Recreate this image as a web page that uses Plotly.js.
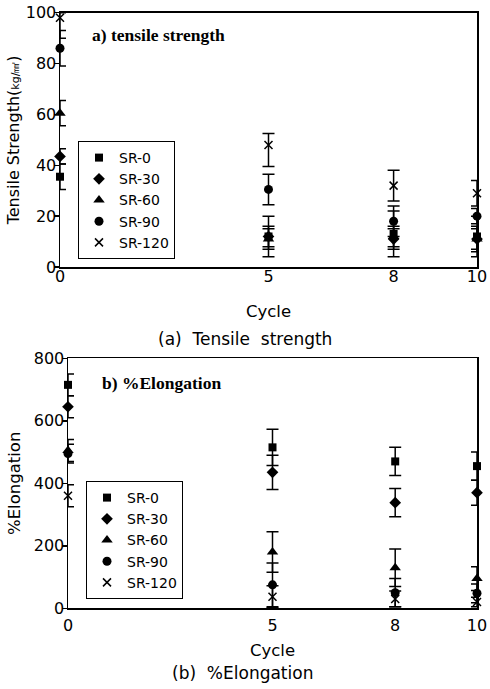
<!DOCTYPE html>
<html>
<head>
<meta charset="utf-8">
<script src="https://cdn.plot.ly/plotly-3.0.1.min.js"></script>
<style>html,body{margin:0;padding:0;background:#fff;}</style>
</head>
<body>
<div id="chart" style="width:490px;height:689px;"></div>
<script>
// ---- data ----
const cycles = [0, 5, 8, 10];
const seriesNames = ['SR-0', 'SR-30', 'SR-60', 'SR-90', 'SR-120'];

// (a) Tensile strength (kg/mm2)
const tsSR0 = [35.5, 12, 13, 12];
const tsSR30 = [43.5, 12, 11, 11];
const tsSR60 = [60.5, 11, 12, 11];
const tsSR90 = [86, 30.5, 18, 20];
const tsSR120 = [98, 48, 32, 29];
const tsErrSR0 = [5, 8, 9, 8];
const tsErrSR30 = [3, 4, 4, 4];
const tsErrSR60 = [5, 4, 4, 5];
const tsErrSR90 = [7, 6, 6, 3];
const tsErrSR120Plus = [2, 4.5, 6, 5];
const tsErrSR120Minus = [8, 8.5, 6, 5];

// (b) %Elongation
const elSR0 = [715, 515, 470, 455];
const elSR30 = [645, 435, 338, 370];
const elSR60 = [505, 180, 130, 95];
const elSR90 = [495, 75, 50, 48];
const elSR120 = [360, 37, 30, 20];
const elErrSR0 = [35, 58, 45, 45];
const elErrSR30 = [35, 55, 45, 40];
const elErrSR60 = [35, 65, 60, 38];
const elErrSR90 = [30, 70, 45, 30];
const elErrSR120 = [35, 35, 25, 15];

const yTicksTS = [0, 20, 40, 60, 80, 100];
const yTicksEL = [0, 200, 400, 600, 800];

// ---- styles ----
const symbols = ['square', 'diamond', 'triangle-up', 'circle', 'x-thin-open'];
const sizes = [8, 9, 10, 9, 8];

function mk(name, i, x, y, ep, em, xa, ya, leg) {
  return {
    type: 'scatter', mode: 'markers', name: name, x: x, y: y,
    xaxis: xa, yaxis: ya, legend: leg, cliponaxis: false,
    marker: { symbol: symbols[i], size: sizes[i], color: '#000',
              line: { color: '#000', width: symbols[i] === 'x-thin-open' ? 1.5 : 0 } },
    error_y: { type: 'data', array: ep, arrayminus: em, symmetric: false, visible: true,
               color: '#000', thickness: 1.5, width: 6 }
  };
}

const tsY = [tsSR0, tsSR30, tsSR60, tsSR90, tsSR120];
const tsEp = [tsErrSR0, tsErrSR30, tsErrSR60, tsErrSR90, tsErrSR120Plus];
const tsEm = [tsErrSR0, tsErrSR30, tsErrSR60, tsErrSR90, tsErrSR120Minus];
const elY = [elSR0, elSR30, elSR60, elSR90, elSR120];
const elE = [elErrSR0, elErrSR30, elErrSR60, elErrSR90, elErrSR120];

const traces = [];
seriesNames.forEach((n, i) => traces.push(mk(n, i, cycles, tsY[i], tsEp[i], tsEm[i], 'x', 'y', 'legend')));
seriesNames.forEach((n, i) => traces.push(mk(n, i, cycles, elY[i], elE[i], elE[i], 'x2', 'y2', 'legend2')));

const W = 490, H = 689;
const px = v => v / W;
const py = v => 1 - v / H;

const axFont = { family: 'DejaVu Sans, sans-serif', size: 16, color: '#000' };
const titleFont = { family: 'DejaVu Sans, sans-serif', size: 16.5, color: '#000' };
const baseX = {
  range: [0, 10], tickvals: cycles, ticks: '', showline: true, mirror: true,
  linecolor: '#000', linewidth: 1.5, showgrid: false, zeroline: false,
  tickfont: axFont, automargin: false, fixedrange: true
};
const baseY = {
  ticks: 'outside', ticklen: 5, tickwidth: 1.5, tickcolor: '#000', ticklabelstandoff: -6,
  showline: true, mirror: true, linecolor: '#000', linewidth: 1.5,
  showgrid: false, zeroline: false, tickfont: axFont, automargin: false, fixedrange: true
};
const legBase = {
  bgcolor: '#fff', bordercolor: '#000', borderwidth: 1,
  font: { family: 'DejaVu Sans, sans-serif', size: 14, color: '#000' },
  xanchor: 'left', yanchor: 'bottom', itemwidth: 30, tracegroupgap: 0
};

const layout = {
  width: W, height: H, margin: { l: 0, r: 0, t: 0, b: 0 },
  paper_bgcolor: '#fff', plot_bgcolor: '#fff', showlegend: true,
  font: { family: 'DejaVu Sans, sans-serif', color: '#000' },
  xaxis: Object.assign({}, baseX, {
    domain: [px(60), px(477)], anchor: 'y', ticklabelstandoff: -6,
    title: { text: 'Cycle', font: titleFont, standoff: 20 }
  }),
  yaxis: Object.assign({}, baseY, {
    domain: [py(267), py(12.7)], anchor: 'x', range: [0, 100], tickvals: yTicksTS,
    title: { text: 'Tensile Strength(<span style="font-size:11px">kg/㎟</span>)',
             font: { family: 'DejaVu Sans, sans-serif', size: 16, color: '#000' }, standoff: 2 }
  }),
  xaxis2: Object.assign({}, baseX, {
    domain: [px(68), px(477)], anchor: 'y2', ticklabelstandoff: 2,
    title: { text: 'Cycle', font: titleFont, standoff: 10 }
  }),
  yaxis2: Object.assign({}, baseY, {
    domain: [py(608.3), py(358.3)], anchor: 'x2', range: [0, 800], tickvals: yTicksEL,
    title: { text: '%Elongation', font: titleFont, standoff: 9 }
  }),
  legend: Object.assign({}, legBase, { x: px(78), y: py(259) }),
  legend2: Object.assign({}, legBase, { x: px(86), y: py(599) }),
  annotations: [
    { xref: 'paper', yref: 'paper', x: px(90), y: py(35), xanchor: 'left', yanchor: 'middle',
      showarrow: false, text: '<b>a) tensile strength</b>',
      font: { family: 'Liberation Serif, Times New Roman, serif', size: 17.5, color: '#000' } },
    { xref: 'paper', yref: 'paper', x: px(100), y: py(383), xanchor: 'left', yanchor: 'middle',
      showarrow: false, text: '<b>b) %Elongation</b>',
      font: { family: 'Liberation Serif, Times New Roman, serif', size: 17.5, color: '#000' } },
    { xref: 'paper', yref: 'paper', x: px(245), y: py(339), xanchor: 'center', yanchor: 'middle',
      showarrow: false, text: '(a)  Tensile  strength',
      font: { family: 'DejaVu Sans, sans-serif', size: 17, color: '#000' } },
    { xref: 'paper', yref: 'paper', x: px(242), y: py(673), xanchor: 'center', yanchor: 'middle',
      showarrow: false, text: '(b)  %Elongation',
      font: { family: 'DejaVu Sans, sans-serif', size: 17, color: '#000' } }
  ]
};

Plotly.newPlot('chart', traces, layout, { staticPlot: true, displayModeBar: false });
</script>
</body>
</html>
